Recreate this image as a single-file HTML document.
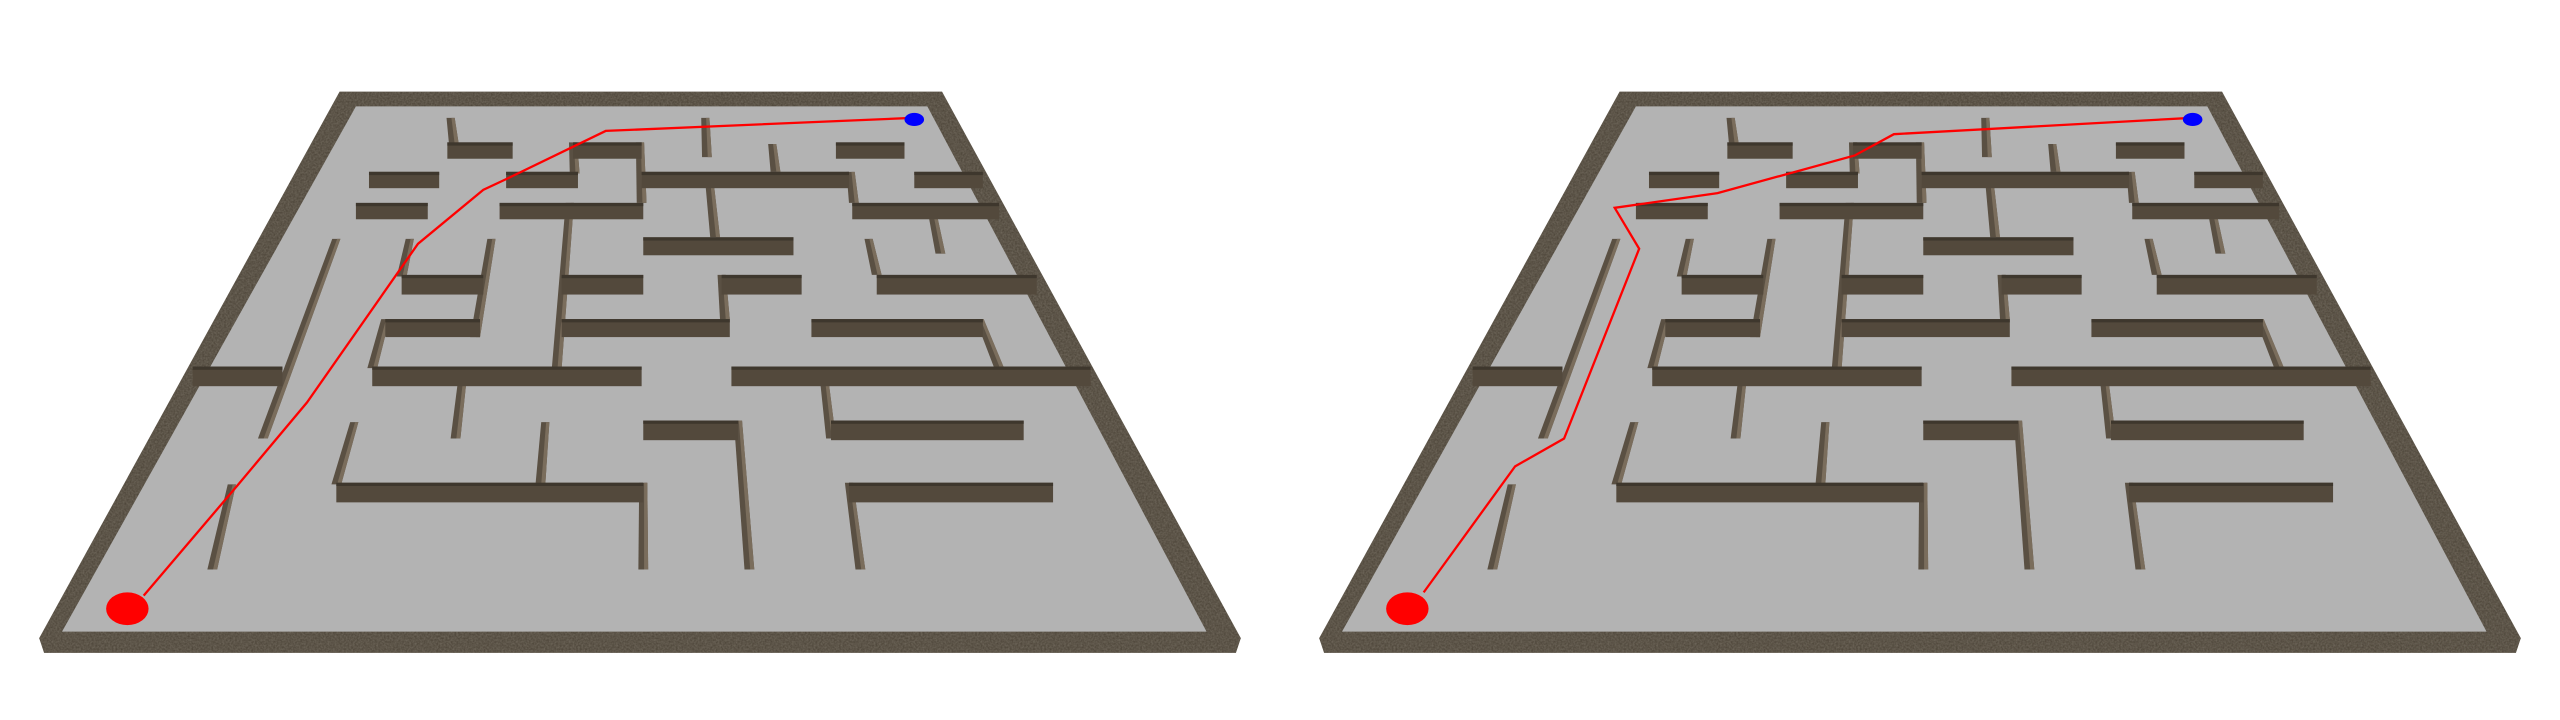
<!DOCTYPE html>
<html><head><meta charset="utf-8"><style>
html,body{margin:0;padding:0;background:#fff;width:2560px;height:720px;overflow:hidden}
svg{display:block}
</style></head><body>
<svg id="s" width="2560" height="720" viewBox="0 0 1568 440" preserveAspectRatio="none" xmlns="http://www.w3.org/2000/svg">
<defs>
<filter id="tex" x="0" y="0" width="100%" height="100%">
<feTurbulence type="fractalNoise" baseFrequency="0.9" numOctaves="2" seed="3" result="n"/>
<feColorMatrix in="n" type="matrix" values="0 0 0 0 0.30  0 0 0 0 0.27  0 0 0 0 0.22  0 0 0 1.2 -0.2" result="c"/>
<feComposite in="c" in2="SourceGraphic" operator="in"/>
</filter>
</defs>
</svg>
<script>
const hWalls=[[274,314,87,97],[351,393,87,97],[512,554,87,97],[226,269,105,115],[310,354,105,115],[393,520,105,115],[560,602,105,115],[522,612,124,134],[218,262,124,134],[306,394,124,134],[394,486,145,156],[246,296,168,180],[236,294,195,206],[344,394,168,180],[442,491,168,180],[344,447,195,206],[537,635,168,180],[497,602,195,206],[118,173,224,236],[228,393,224,236],[448,668,224,236],[509,627,257,269],[394,452,257,269],[206,394,295,307],[520,645,295,307]];
const vWalls=[[276,72,278,88],[432,72,433,96],[351,87,352,106],[392,87,393,124],[473,88,475,105],[521,105,523,124],[349,124,341,225],[434,106,438,145],[570,125,576,155],[206,146,161,268],[251,146,246,169],[301,146,291,206],[236,195,228,225],[442,168,444,195],[532,146,537,168],[600,195,612,225],[284,225,279,268],[504,225,509,268],[452,257,459,348],[217,258,206,296],[394,295,394,348],[334,258,331,296],[142,296,130,348],[520,295,527,348]];
const pathL=[[78,372],[88,364],[146,296],[188,246],[256,149],[296,116],[311,109],[371,80],[560,72]];
const pathR=[[78,372],[88,362],[144,285],[174,268],[220,152],[205,127],[268,118],[352,95],[376,82],[559,72]];
const NS='http://www.w3.org/2000/svg';
const svg=document.getElementById('s');
function mk(t,a,p){const e=document.createElementNS(NS,t);for(const k in a)e.setAttribute(k,a[k]);p.appendChild(e);return e;}
function maze(off,path,idx){
  const g=mk('g',{transform:'translate('+off+',0)'},svg);
  
  
  const fr=mk('polygon',{points:'208,56 577,56 760,390 757,399 27,399 24,390',fill:'#4f473b'},g);
  
  
  mk('polygon',{points:'208,56 577,56 760,390 757,399 27,399 24,390',fill:'#000',filter:'url(#tex)',opacity:'0.5'},g);
  const fl=mk('polygon',{points:'218,65 568,65 739,386 38,386',fill:'#b3b3b3'},g);
  
  
  vWalls.forEach(w=>{
    const p=mk('polygon',{points:(w[0]-2.5)+','+w[1]+' '+(w[0]+2.5)+','+w[1]+' '+(w[2]+3)+','+w[3]+' '+(w[2]-3)+','+w[3],fill:'#5a5043'},g);
    
    
    mk('polygon',{points:(w[0]+0.5)+','+w[1]+' '+(w[0]+2.5)+','+w[1]+' '+(w[2]+3)+','+w[3]+' '+(w[2]+0.5)+','+w[3],fill:'#7a6d5c'},g);
  });
  hWalls.forEach(w=>{
    const r=mk('rect',{x:w[0],y:w[2],width:w[1]-w[0],height:w[3]-w[2],fill:'#53493c'},g);
    
    
    mk('rect',{x:w[0],y:w[2],width:w[1]-w[0],height:2,fill:'#3e372d'},g);
  });
  const pl=mk('polyline',{points:path.slice(1).map(p=>p.join(',')).join(' '),fill:'none',stroke:'#ff0000','stroke-width':1.4},g);
  
  
  const st=mk('ellipse',{cx:path[0][0],cy:path[0][1],rx:13,ry:10,fill:'#ff0000'},g);
  
  
  const en=path[path.length-1];
  const ge=mk('ellipse',{cx:en[0],cy:en[1]+1,rx:6,ry:4,fill:'#0000ff'},g);
  
  
}
maze(0,pathL,'left');
maze(784,pathR,'right');
</script>
</body></html>
